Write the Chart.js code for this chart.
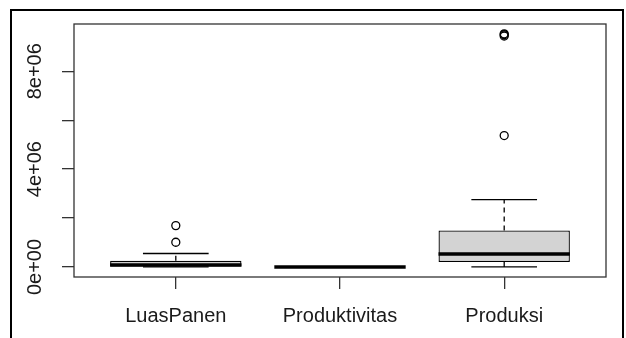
<!DOCTYPE html>
<html>
<head>
<meta charset="utf-8">
<script src="https://cdn.jsdelivr.net/npm/chart.js@4"></script>
<style>
  html, body { margin: 0; padding: 0; background: #fff; overflow: hidden; }
  #wrap { position: relative; width: 626px; height: 338px; }
  #frame { position: absolute; left: 10px; top: 9px; width: 610px; height: 400px;
           border: 2px solid #000; pointer-events: none; }
</style>
</head>
<body>
<div id="wrap">
  <canvas id="chart" width="626" height="338"></canvas>
  <div id="frame"></div>
</div>
<script>
// boxplot summary
const categories = ["LuasPanen", "Produktivitas", "Produksi"];
const whiskerLow = [2000, 40, 3000];
const q1 = [15000, 45, 200000];
const median = [80000, 50, 530000];
const q3 = [250000, 55, 1490000];
const whiskerHigh = [550000, 60, 2750000];
const outliers = [
  [1010000, 1690000],
  [],
  [5370000, 9440000, 9490000, 9530000]
];
const yTickValues = [0, 2e6, 4e6, 6e6, 8e6];
const yTickLabels = ["0e+00", "", "4e+06", "", "8e+06"];

const fontFamily = "'Liberation Sans', Arial, sans-serif";
const textColor = "#1a1a1a";

// whiskers, caps and medians drawn with the chart's scales
const boxExtras = {
  id: "boxExtras",
  afterDatasetsDraw(chart) {
    const ctx = chart.ctx;
    const xs = chart.scales.x, ys = chart.scales.y;
    const bars = chart.getDatasetMeta(0).data;
    ctx.save();
    ctx.strokeStyle = "#000";
    categories.forEach((c, i) => {
      const cx = xs.getPixelForValue(i + 1);
      const half = bars[i].width / 2;
      // dashed whiskers
      ctx.lineWidth = 1.3;
      ctx.setLineDash([5, 4]);
      ctx.beginPath();
      ctx.moveTo(cx, ys.getPixelForValue(q3[i]));
      ctx.lineTo(cx, ys.getPixelForValue(whiskerHigh[i]));
      ctx.moveTo(cx, ys.getPixelForValue(q1[i]));
      ctx.lineTo(cx, ys.getPixelForValue(whiskerLow[i]));
      ctx.stroke();
      // caps
      ctx.setLineDash([]);
      ctx.beginPath();
      [whiskerHigh[i], whiskerLow[i]].forEach(v => {
        const py = ys.getPixelForValue(v);
        ctx.moveTo(cx - half / 2, py);
        ctx.lineTo(cx + half / 2, py);
      });
      ctx.stroke();
      // median
      ctx.lineWidth = 3.6;
      ctx.beginPath();
      const my = ys.getPixelForValue(median[i]);
      ctx.moveTo(cx - half, my);
      ctx.lineTo(cx + half, my);
      ctx.stroke();
    });
    ctx.restore();
  },
  afterDraw(chart) {
    const ctx = chart.ctx;
    const a = chart.chartArea;
    const ys = chart.scales.y;
    ctx.save();
    // plot box
    ctx.strokeStyle = "#333";
    ctx.lineWidth = 1.3;
    ctx.strokeRect(a.left, a.top, a.right - a.left, a.bottom - a.top);
    // vertical y labels
    ctx.fillStyle = textColor;
    ctx.font = "20px " + fontFamily;
    ctx.textAlign = "center";
    ctx.textBaseline = "middle";
    yTickValues.forEach((v, i) => {
      if (!yTickLabels[i]) return;
      ctx.save();
      ctx.translate(a.left - 39, ys.getPixelForValue(v));
      ctx.rotate(-Math.PI / 2);
      ctx.fillText(yTickLabels[i], 0, 0);
      ctx.restore();
    });
    ctx.restore();
  }
};

const outlierPoints = [];
outliers.forEach((list, i) => list.forEach(v => outlierPoints.push({ x: i + 1, y: v })));

new Chart(document.getElementById("chart"), {
  type: "bar",
  data: {
    datasets: [
      {
        type: "bar",
        data: categories.map((c, i) => ({ x: i + 1, y: [q1[i], q3[i]] })),
        backgroundColor: "#d3d3d3",
        borderColor: "#000",
        borderWidth: 1.3,
        borderSkipped: false,
        barPercentage: 1,
        categoryPercentage: 0.8
      },
      {
        type: "scatter",
        data: outlierPoints,
        pointRadius: 4,
        pointBorderWidth: 1.3,
        pointBorderColor: "#000",
        pointBackgroundColor: "rgba(0,0,0,0)"
      }
    ]
  },
  options: {
    responsive: false,
    animation: false,
    layout: { padding: { top: 24, right: 20, left: 0, bottom: 0 } },
    plugins: { legend: { display: false }, tooltip: { enabled: false } },
    scales: {
      x: {
        type: "linear",
        min: 0.38,
        max: 3.62,
        offset: false,
        afterBuildTicks: s => { s.ticks = categories.map((c, i) => ({ value: i + 1 })); },
        afterFit: s => { s.height = 61; },
        ticks: {
          callback: v => categories[v - 1],
          autoSkip: false,
          maxRotation: 0,
          padding: 15,
          color: textColor,
          font: { size: 20, family: fontFamily }
        },
        grid: { offset: false, drawOnChartArea: false, tickLength: 12, tickColor: "#333", lineWidth: 1.3 },
        border: { display: false }
      },
      y: {
        type: "linear",
        min: -410000,
        max: 9930000,
        afterBuildTicks: s => { s.ticks = yTickValues.map(v => ({ value: v })); },
        afterFit: s => { s.width = 74; },
        ticks: { display: false },
        grid: { drawOnChartArea: false, tickLength: 12, tickColor: "#333", lineWidth: 1.3 },
        border: { display: false }
      }
    }
  },
  plugins: [boxExtras]
});
</script>
</body>
</html>
